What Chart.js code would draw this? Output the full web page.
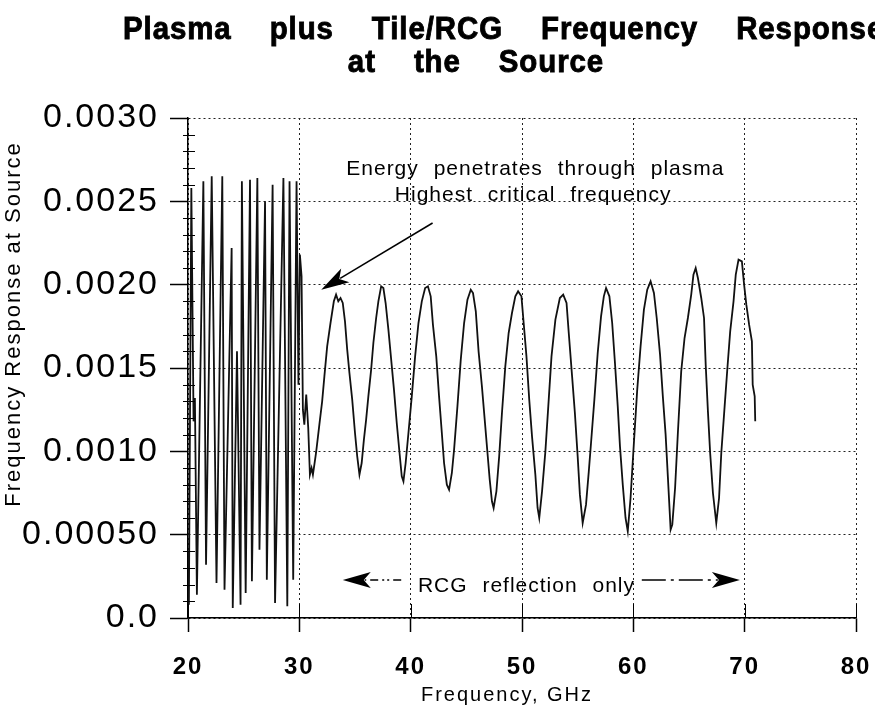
<!DOCTYPE html>
<html>
<head>
<meta charset="utf-8">
<title>Plasma plus Tile/RCG Frequency Response at the Source</title>
<script src="https://cdn.jsdelivr.net/npm/chart.js@4.4.1/dist/chart.umd.min.js"></script>
<style>
  html, body { margin: 0; padding: 0; background: #fff; }
</style>
</head>
<body>
<canvas id="myChart" width="875" height="712"></canvas>
<script>
// frequency sweep (GHz)
const freqGHz = [
  20.00, 20.08, 20.30, 20.50, 20.62, 20.80, 21.38, 21.62, 22.13, 22.56,
  23.08, 23.28, 23.92, 24.02, 24.40, 24.72, 24.84, 25.18, 25.57, 25.74,
  26.23, 26.42, 26.92, 27.08, 27.60, 27.82, 28.57, 28.92, 29.12, 29.45,
  29.75, 29.92, 30.05, 30.20, 30.32, 30.45, 30.62, 30.80, 30.95, 31.10,
  31.22, 31.35, 31.50, 31.80, 32.05, 32.25, 32.50, 32.80, 33.10, 33.30,
  33.50, 33.70, 33.90, 34.10, 34.30, 34.50, 34.75, 35.00, 35.20, 35.40,
  35.60, 35.80, 36.00, 36.20, 36.45, 36.65, 36.90, 37.10, 37.35, 37.55,
  37.75, 38.00, 38.25, 38.50, 38.75, 39.00, 39.20, 39.35, 39.55, 39.80,
  40.10, 40.40, 40.70, 41.00, 41.30, 41.55, 41.80, 42.00, 42.30, 42.55,
  42.80, 43.00, 43.25, 43.45, 43.70, 43.90, 44.20, 44.50, 44.80, 45.10,
  45.40, 45.60, 45.85, 46.10, 46.40, 46.65, 46.90, 47.10, 47.30, 47.45,
  47.70, 47.95, 48.20, 48.50, 48.80, 49.10, 49.40, 49.65, 49.95, 50.15,
  50.40, 50.65, 50.90, 51.20, 51.40, 51.55, 51.80, 52.10, 52.40, 52.65,
  53.00, 53.40, 53.70, 54.00, 54.20, 54.50, 54.75, 55.00, 55.20, 55.45,
  55.75, 56.00, 56.20, 56.50, 56.80, 57.10, 57.35, 57.55, 57.85, 58.10,
  58.35, 58.60, 58.80, 59.05, 59.30, 59.50, 59.75, 60.05, 60.35, 60.65,
  60.95, 61.25, 61.55, 61.85, 62.10, 62.40, 62.65, 62.90, 63.10, 63.35,
  63.50, 63.75, 64.00, 64.30, 64.60, 64.90, 65.20, 65.40, 65.60, 65.80,
  66.10, 66.35, 66.50, 66.70, 66.90, 67.15, 67.45, 67.70, 67.90, 68.20,
  68.45, 68.70, 69.00, 69.20, 69.45, 69.75, 69.95, 70.15, 70.40, 70.65,
  70.72, 70.90, 70.95
];

// frequency response at the source, same order as freqGHz
const response = [
  0.00040, 0.00008, 0.00258, 0.00118, 0.00132, 0.00014, 0.00262, 0.00032, 0.00265, 0.00021,
  0.00265, 0.00017, 0.00222, 0.00006, 0.00160, 0.00008, 0.00262, 0.00015, 0.00263, 0.00022,
  0.00264, 0.00041, 0.00250, 0.00023, 0.00260, 0.00009, 0.00264, 0.00007, 0.00262, 0.00023,
  0.00262, 0.00140, 0.00218, 0.00205, 0.00125, 0.00116, 0.00134, 0.00114, 0.00086, 0.00090,
  0.00086, 0.00092, 0.00099, 0.00116, 0.00130, 0.00145, 0.00163, 0.00177, 0.00190, 0.00194,
  0.00190, 0.00192, 0.00189, 0.00178, 0.00161, 0.00147, 0.00131, 0.00111, 0.00097, 0.00086,
  0.00093, 0.00107, 0.00119, 0.00133, 0.00149, 0.00165, 0.00180, 0.00190, 0.00199, 0.00198,
  0.00189, 0.00173, 0.00155, 0.00137, 0.00117, 0.00099, 0.00085, 0.00082, 0.00093, 0.00111,
  0.00133, 0.00157, 0.00177, 0.00190, 0.00198, 0.00199, 0.00193, 0.00176, 0.00157, 0.00133,
  0.00111, 0.00093, 0.00080, 0.00077, 0.00087, 0.00101, 0.00127, 0.00155, 0.00177, 0.00191,
  0.00197, 0.00195, 0.00184, 0.00160, 0.00139, 0.00119, 0.00099, 0.00083, 0.00070, 0.00066,
  0.00076, 0.00097, 0.00123, 0.00151, 0.00171, 0.00183, 0.00193, 0.00196, 0.00193, 0.00177,
  0.00157, 0.00131, 0.00109, 0.00086, 0.00066, 0.00060, 0.00076, 0.00100, 0.00131, 0.00157,
  0.00179, 0.00192, 0.00194, 0.00189, 0.00171, 0.00145, 0.00123, 0.00097, 0.00074, 0.00057,
  0.00068, 0.00088, 0.00105, 0.00131, 0.00159, 0.00181, 0.00193, 0.00198, 0.00193, 0.00177,
  0.00153, 0.00127, 0.00103, 0.00080, 0.00060, 0.00052, 0.00072, 0.00105, 0.00137, 0.00163,
  0.00185, 0.00197, 0.00202, 0.00195, 0.00180, 0.00158, 0.00133, 0.00110, 0.00085, 0.00053,
  0.00056, 0.00078, 0.00111, 0.00148, 0.00168, 0.00180, 0.00194, 0.00206, 0.00210, 0.00204,
  0.00192, 0.00180, 0.00152, 0.00124, 0.00099, 0.00075, 0.00057, 0.00072, 0.00099, 0.00127,
  0.00150, 0.00172, 0.00190, 0.00206, 0.00215, 0.00214, 0.00200, 0.00188, 0.00176, 0.00166,
  0.00140, 0.00133, 0.00118
];

const xTickLabels = ['20', '30', '40', '50', '60', '70', '80'];
const yTickLabels = ['0.0', '0.00050', '0.0010', '0.0015', '0.0020', '0.0025', '0.0030'];

const titleLine1 = ['Plasma', 'plus', 'Tile/RCG', 'Frequency', 'Response'];
const titleLine2 = ['at', 'the', 'Source'];

const FONT = '"Liberation Sans", Arial, Helvetica, sans-serif';

// line with a notched, filled head at (x1, y1)
function drawArrow(ctx, x0, y0, x1, y1, dash) {
  const len = 28, half = 8;
  const a = Math.atan2(y1 - y0, x1 - x0);
  const c = Math.cos(a), s = Math.sin(a);
  const bx = x1 - len * c, by = y1 - len * s;
  ctx.save();
  ctx.lineWidth = 1.5;
  ctx.setLineDash(dash || []);
  ctx.beginPath();
  ctx.moveTo(x0, y0);
  ctx.lineTo(bx + 6 * c, by + 6 * s);
  ctx.stroke();
  ctx.setLineDash([]);
  ctx.beginPath();
  ctx.moveTo(x1, y1);
  ctx.lineTo(bx + half * s, by - half * c);
  ctx.lineTo(bx + 7 * c, by + 7 * s);
  ctx.lineTo(bx - half * s, by + half * c);
  ctx.closePath();
  ctx.fill();
  ctx.restore();
}

function drawWords(ctx, words, left, baseline, gap, sx) {
  ctx.save();
  ctx.translate(left, baseline);
  ctx.scale(sx, 1);
  ctx.lineWidth = 0.9;
  let cx = 0;
  words.forEach(w => {
    ctx.fillText(w, cx, 0);
    ctx.strokeText(w, cx, 0);
    cx += ctx.measureText(w).width + gap / sx;
  });
  ctx.restore();
}

function wordsWidth(ctx, words, gap, sx) {
  let w = 0;
  words.forEach(t => { w += ctx.measureText(t).width * sx; });
  return w + gap * (words.length - 1);
}

const decorations = {
  id: 'decorations',
  beforeDraw(chart) {
    // tick labels in the original are set rather loosely
    chart.ctx.letterSpacing = '2px';
  },
  afterDraw(chart) {
    const ctx = chart.ctx;
    const xs = chart.scales.x, ys = chart.scales.y;
    const area = chart.chartArea;
    ctx.save();
    ctx.fillStyle = '#000';
    ctx.strokeStyle = '#000';

    // minor ticks on the y axis, and the major x ticks poking into the plot
    ctx.lineWidth = 1;
    ctx.beginPath();
    for (let k = 1; k < 30; k++) {
      if (k % 5 === 0) continue;
      const y = Math.round(ys.getPixelForValue(k * 0.0001)) + 0.5;
      ctx.moveTo(area.left - 5, y);
      ctx.lineTo(area.left + 7, y);
    }
    xs.ticks.forEach(t => {
      const x = Math.round(xs.getPixelForValue(t.value)) + 0.5;
      ctx.moveTo(x, area.bottom);
      ctx.lineTo(x, area.bottom - 14);
    });
    ctx.stroke();

    // title
    ctx.letterSpacing = '1px';
    ctx.font = 'bold 32px ' + FONT;
    ctx.textAlign = 'left';
    ctx.textBaseline = 'alphabetic';
    drawWords(ctx, titleLine1, 123, 39, 38, 0.92);
    const w2 = wordsWidth(ctx, titleLine2, 38, 0.92);
    drawWords(ctx, titleLine2, 476 - w2 / 2, 72, 38, 0.92);

    // axis titles
    ctx.letterSpacing = '2px';
    ctx.font = '22px ' + FONT;
    ctx.textAlign = 'center';
    ctx.textBaseline = 'middle';
    ctx.save();
    ctx.translate(14, 324);
    ctx.rotate(-Math.PI / 2);
    ctx.fillText('Frequency Response at Source', 0, 0);
    ctx.restore();
    ctx.font = '20px ' + FONT;
    ctx.textBaseline = 'alphabetic';
    ctx.fillText('Frequency, GHz', 507, 701);

    // annotations, anchored in data units
    const px = v => xs.getPixelForValue(v);
    const py = v => ys.getPixelForValue(v);
    ctx.font = '21px ' + FONT;
    ctx.letterSpacing = '1px';
    ctx.wordSpacing = '8px';
    ctx.fillText('Energy penetrates through plasma', px(51.2), py(0.00266));
    ctx.fillText('Highest critical frequency', px(51.0), py(0.00250));
    ctx.fillText('RCG reflection only', px(50.4), py(0.000156));
    ctx.wordSpacing = '0px';
    ctx.letterSpacing = '0px';

    drawArrow(ctx, px(41.97), py(0.00237), px(31.97), py(0.00197));
    drawArrow(ctx, px(39.15), py(0.000228), px(33.9), py(0.000228), [8, 4, 2, 3, 2, 4]);
    drawArrow(ctx, px(60.76), py(0.000228), px(69.57), py(0.000228), [24, 5, 3, 5]);

    ctx.restore();
  }
};

const ctx = document.getElementById('myChart');

const points = freqGHz.map((f, i) => ({ x: f, y: response[i] }));

new Chart(ctx, {
  type: 'scatter',
  data: {
    datasets: [{
      data: points,
      showLine: true,
      borderColor: '#111',
      borderWidth: 1.8,
      pointRadius: 0,
      tension: 0,
      fill: false
    }]
  },
  options: {
    responsive: false,
    animation: false,
    devicePixelRatio: 1,
    layout: { padding: { top: 118, right: 19, left: 0, bottom: 0 } },
    plugins: {
      legend: { display: false },
      title: { display: false },
      tooltip: { enabled: false }
    },
    scales: {
      x: {
        type: 'linear',
        min: 20,
        max: 80,
        afterFit: scale => {
          scale.height = 94;
          scale.paddingLeft = 0;
          scale.paddingRight = 0;
        },
        ticks: {
          stepSize: 10,
          autoSkip: false,
          maxRotation: 0,
          padding: 21,
          color: '#000',
          font: { family: FONT, size: 24, weight: 'bold' },
          callback: (v, i) => xTickLabels[i]
        },
        grid: { color: '#222', lineWidth: 1, tickLength: 14, tickColor: '#000', tickWidth: 1.5 },
        border: { color: '#000', width: 1.5, dash: [2, 3] }
      },
      y: {
        min: 0,
        max: 0.003,
        afterFit: scale => {
          scale.width = 188;
          scale.paddingTop = 0;
          scale.paddingBottom = 0;
        },
        ticks: {
          stepSize: 0.0005,
          autoSkip: false,
          padding: 11,
          color: '#000',
          font: { family: FONT, size: 34 },
          callback: (v, i) => yTickLabels[i]
        },
        grid: { color: '#222', lineWidth: 1, tickLength: 18, tickColor: '#000', tickWidth: 1.5 },
        border: { color: '#000', width: 1.5, dash: [2, 3] }
      }
    }
  },
  plugins: [decorations]
});
</script>
</body>
</html>
